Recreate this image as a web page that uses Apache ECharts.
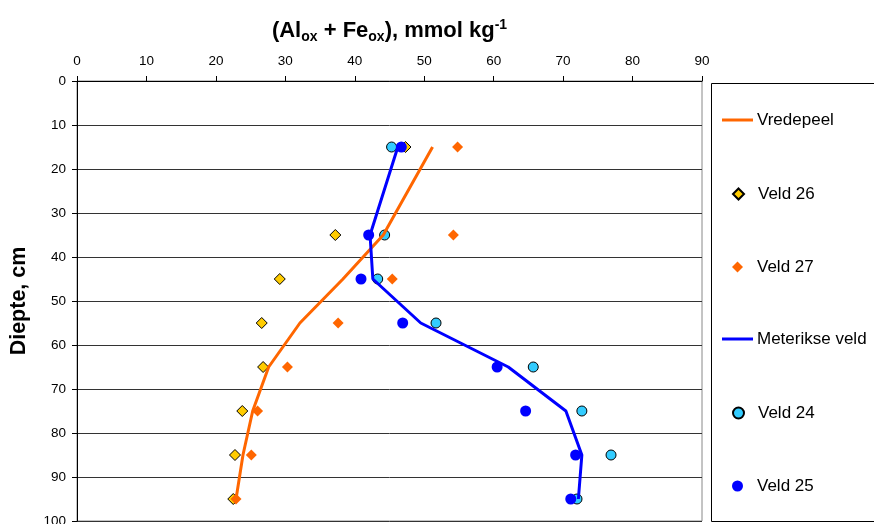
<!DOCTYPE html>
<html>
<head>
<meta charset="utf-8">
<script src="https://cdn.jsdelivr.net/npm/echarts@6/dist/echarts.min.js"></script>
<style>
html,body{margin:0;padding:0;background:#fff;}
#c{width:874px;height:524px;}
</style>
</head>
<body>
<div id="c"></div>
<script>
// Depths (cm)
const depths = [15, 35, 45, 55, 65, 75, 85, 95];
// (Alox + Feox), mmol/kg
const vredepeel = [51.2, 44.1, 38.3, 32.1, 27.6, 25.3, 23.9, 22.9];
const veld26 = [47.3, 37.2, 29.2, 26.6, 26.8, 23.8, 22.75, 22.5];
const veld27 = [54.8, 54.2, 45.4, 37.6, 30.3, 26.0, 25.1, 22.9];
const meterikse = [46.2, 42.2, 42.6, 49.5, 62.1, 70.4, 72.7, 72.2];
const veld24 = [45.3, 44.3, 43.3, 51.7, 65.7, 72.7, 76.9, 72.0];
const veld25 = [46.7, 42.0, 40.9, 46.9, 60.5, 64.6, 71.8, 71.1];
const seriesNames = ['Vredepeel', 'Veld 26', 'Veld 27', 'Meterikse veld', 'Veld 24', 'Veld 25'];
const isLine = [true, false, false, true, false, false];

const FONT = '"Liberation Sans", Arial, sans-serif';
const pairs = vals => vals.map((v, i) => [v, depths[i]]);

const legendTops = [111, 185, 258, 330, 404, 477];
const legends = seriesNames.map((n, i) => isLine[i] ? ({
  data: [n],
  orient: 'vertical',
  left: 722,
  top: legendTops[i],
  padding: 0,
  icon: 'rect',
  itemWidth: 31,
  itemHeight: 3,
  selectedMode: false,
  textStyle: { fontFamily: FONT, fontSize: 17, color: '#000', lineHeight: 18, padding: [0, 0, 0, -1] }
}) : ({
  data: [n],
  orient: 'vertical',
  left: 732,
  top: legendTops[i],
  padding: 0,
  itemWidth: 11,
  itemHeight: 11,
  selectedMode: false,
  textStyle: { fontFamily: FONT, fontSize: 17, color: '#000', lineHeight: 18, padding: [0, 0, 0, 9] }
}));

const chart = echarts.init(document.getElementById('c'), null, { renderer: 'canvas' });
chart.setOption({
  animation: false,
  backgroundColor: '#fff',
  textStyle: { fontFamily: FONT },
  grid: { left: 77, top: 81, width: 625, height: 440, outerBoundsMode: 'none', containLabel: false, show: true, borderColor: '#888', borderWidth: 1, backgroundColor: 'transparent' },
  legend: legends,
  graphic: [{
    type: 'rect',
    shape: { x: 711.5, y: 83.5, width: 200, height: 438 },
    style: { fill: 'none', stroke: '#000', lineWidth: 1 },
    z: -1
  }],
  xAxis: {
    type: 'value',
    position: 'top',
    min: 0, max: 90, interval: 10,
    name: '{m|(Al}{s|ox}{m| + Fe}{s|ox}{m|), mmol kg}{p|-1}',
    nameLocation: 'middle',
    nameGap: 37,
    nameTextStyle: {
      rich: {
        m: { fontFamily: FONT, fontSize: 22, fontWeight: 'bold', color: '#000', lineHeight: 26, verticalAlign: 'middle' },
        s: { fontFamily: FONT, fontSize: 14, fontWeight: 'bold', color: '#000', lineHeight: 14, verticalAlign: 'bottom' },
        p: { fontFamily: FONT, fontSize: 14, fontWeight: 'bold', color: '#000', lineHeight: 14, verticalAlign: 'top' }
      }
    },
    axisLine: { show: true, lineStyle: { color: '#000', width: 1 } },
    axisTick: { show: true, inside: false, length: 5, lineStyle: { color: '#000' } },
    axisLabel: { fontFamily: FONT, fontSize: 13.5, color: '#000', margin: 13 },
    splitLine: { show: false }
  },
  yAxis: {
    type: 'value',
    inverse: true,
    min: 0, max: 100, interval: 10,
    name: 'Diepte, cm',
    nameLocation: 'middle',
    nameRotate: 90,
    nameGap: 47,
    nameTextStyle: { fontFamily: FONT, fontSize: 21.5, fontWeight: 'bold', color: '#000' },
    axisLine: { show: true, lineStyle: { color: '#000', width: 1 } },
    axisTick: { show: true, inside: false, length: 5, lineStyle: { color: '#000' } },
    axisLabel: { fontFamily: FONT, fontSize: 13.5, color: '#000', margin: 11 },
    splitLine: { show: true, lineStyle: { color: '#333', width: 1 } }
  },
  series: [
    { name: 'Vredepeel', type: 'line', data: pairs(vredepeel), symbol: 'none', lineStyle: { color: '#FF6600', width: 3 }, itemStyle: { color: '#FF6600' } },
    { name: 'Veld 26', type: 'scatter', data: pairs(veld26), symbol: 'diamond', symbolSize: 11, itemStyle: { color: '#FFCC00', borderColor: '#000', borderWidth: 1, opacity: 1 } },
    { name: 'Veld 27', type: 'scatter', data: pairs(veld27), symbol: 'diamond', symbolSize: 11, itemStyle: { color: '#FF6600', opacity: 1 } },
    { name: 'Meterikse veld', type: 'line', data: pairs(meterikse), symbol: 'none', lineStyle: { color: '#0000FF', width: 3 }, itemStyle: { color: '#0000FF' } },
    { name: 'Veld 24', type: 'scatter', data: pairs(veld24), symbol: 'circle', symbolSize: 10, itemStyle: { color: '#33CCFF', borderColor: '#000', borderWidth: 1, opacity: 1 } },
    { name: 'Veld 25', type: 'scatter', data: pairs(veld25), symbol: 'circle', symbolSize: 11, itemStyle: { color: '#0000FF', opacity: 1 } }
  ]
});
</script>
</body>
</html>
